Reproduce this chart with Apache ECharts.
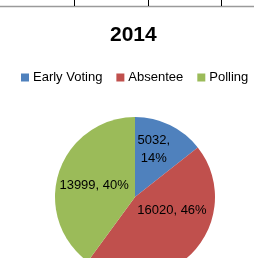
<!DOCTYPE html>
<html>
<head>
<meta charset="utf-8">
<script src="https://cdn.jsdelivr.net/npm/echarts@6/dist/echarts.min.js"></script>
<style>
    html, body { margin: 0; padding: 0; background: #fff; }
    #chart { width: 254px; height: 258px; }
</style>
</head>
<body>
<div id="chart"></div>
<script>
    const categories = ['Early Voting', 'Absentee', 'Polling']
    const votes = [5032, 16020, 13999]
    const colors = ['#4F81BD', '#C0504D', '#9BBB59']
    const chartTitle = '2014'

    // label nudges so they sit roughly where Excel put them
    const labelTweaks = [
        {formatter: '{c},\n{d}%', offset: [0, -9]},
        {formatter: '{c}, {d}%', offset: [6, -16]},
        {formatter: '{c}, {d}%', offset: [0, 2]}
    ]

    let myChart = echarts.init(document.getElementById('chart'))
    myChart.setOption({
        animation: false,
        title: {
            text: chartTitle,
            left: 105,
            top: 20,
            textStyle: {
                fontFamily: 'Liberation Sans',
                fontWeight: 'bold',
                fontSize: 21,
                color: '#000'
            }
        },
        legend: {
            left: 21,
            top: 71,
            padding: 0,
            width: 233,
            icon: 'rect',
            itemWidth: 8,
            itemHeight: 8,
            itemGap: 14,
            textStyle: {
                fontFamily: 'Liberation Sans',
                fontSize: 13,
                color: '#000',
                padding: [0, 0, 0, -1]
            }
        },
        graphic: [
            {type: 'line', shape: {x1: 0, y1: 6.5, x2: 254, y2: 6.5}, style: {stroke: '#9a9a9a', lineWidth: 1.5}},
            {type: 'line', shape: {x1: 74.5, y1: 0, x2: 74.5, y2: 6}, style: {stroke: '#000', lineWidth: 1}},
            {type: 'line', shape: {x1: 148.5, y1: 0, x2: 148.5, y2: 6}, style: {stroke: '#000', lineWidth: 1}},
            {type: 'line', shape: {x1: 221.5, y1: 0, x2: 221.5, y2: 6}, style: {stroke: '#000', lineWidth: 1}}
        ],
        series: [
            {
                type: 'pie',
                center: [135, 197],
                radius: 80,
                startAngle: 90,
                percentPrecision: 0,
                label: {
                    show: true,
                    position: 'inside',
                    fontFamily: 'Liberation Sans',
                    fontSize: 13,
                    color: '#000',
                    lineHeight: 18
                },
                labelLine: {show: false},
                data: categories.map((name, i) => ({
                    name: name,
                    value: votes[i],
                    itemStyle: {color: colors[i]},
                    label: labelTweaks[i]
                }))
            }
        ]
    })
</script>
</body>
</html>
